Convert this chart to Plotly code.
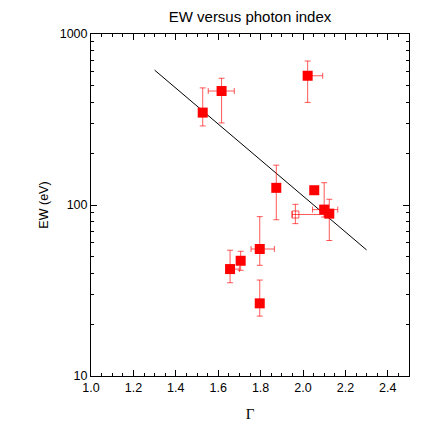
import plotly.graph_objects as go

# EW (eV) against photon index Gamma, log y axis, with a straight-line fit in log space

gamma = [1.527, 1.616, 2.022, 1.874, 2.053, 2.100, 2.124, 1.796, 1.706, 1.656, 1.796]
gamma_lo = [1.527, 1.553, 2.005, 1.874, 2.043, 2.045, 2.105, 1.755, 1.690, 1.640, 1.796]
gamma_hi = [1.527, 1.676, 2.093, 1.874, 2.063, 2.164, 2.140, 1.865, 1.720, 1.700, 1.796]
ew = [347, 464, 570, 126, 122, 94, 89, 55.3, 47.2, 42.2, 26.6]
ew_lo = [290, 302, 398, 82, 116, 85, 62, 44.4, 41.5, 35.1, 22.4]
ew_hi = [484, 551, 695, 171, 128, 135, 108, 85.5, 53.6, 54.4, 36.4]

# the single open-square point
open_gamma = [1.964]
open_gamma_lo = [1.950]
open_gamma_hi = [2.100]
open_ew = [88]
open_ew_lo = [77.8]
open_ew_hi = [100.9]

fit_gamma = [1.3, 2.3]
fit_ew = [615, 54.6]

err_col = 'rgba(255,0,0,0.65)'

fig = go.Figure()

fig.add_trace(go.Scatter(
    x=fit_gamma, y=fit_ew, mode='lines',
    line=dict(color='black', width=1), showlegend=False))

fig.add_trace(go.Scatter(
    x=open_gamma, y=open_ew, mode='markers',
    marker=dict(symbol='square-open', size=7, color=err_col, line=dict(width=1)),
    error_y=dict(type='data', symmetric=False,
                 array=[h - v for h, v in zip(open_ew_hi, open_ew)],
                 arrayminus=[v - l for l, v in zip(open_ew_lo, open_ew)],
                 color=err_col, thickness=1, width=3),
    error_x=dict(type='data', symmetric=False,
                 array=[h - v for h, v in zip(open_gamma_hi, open_gamma)],
                 arrayminus=[v - l for l, v in zip(open_gamma_lo, open_gamma)],
                 color=err_col, thickness=1, width=3),
    showlegend=False))

fig.add_trace(go.Scatter(
    x=gamma, y=ew, mode='markers',
    marker=dict(symbol='square', size=10, color='#ff0000'),
    error_y=dict(type='data', symmetric=False,
                 array=[h - v for h, v in zip(ew_hi, ew)],
                 arrayminus=[v - l for l, v in zip(ew_lo, ew)],
                 color=err_col, thickness=1, width=3),
    error_x=dict(type='data', symmetric=False,
                 array=[h - v for h, v in zip(gamma_hi, gamma)],
                 arrayminus=[v - l for l, v in zip(gamma_lo, gamma)],
                 color=err_col, thickness=1, width=3),
    showlegend=False))

axis_font = dict(family='Liberation Sans, Arial', size=12.5, color='black')

# page body adds ~8px offset, so margins are shifted to land the box where the reference has it
fig.update_layout(
    width=436, height=436, autosize=False,
    margin=dict(l=83, r=35, t=26, b=68),
    paper_bgcolor='white', plot_bgcolor='white',
    font=axis_font,
    title=dict(text='EW versus photon index', x=0.5, xref='paper',
               y=1 - 9 / 436, yanchor='middle',
               font=dict(family='Liberation Sans, Arial', size=15, color='black')),
    xaxis=dict(range=[1.0, 2.5], dtick=0.2, tick0=1.0, tickformat='.1f',
               showgrid=False, zeroline=False,
               showline=True, linecolor='black', linewidth=1, mirror='allticks',
               ticks='inside', ticklen=6, tickcolor='black',
               minor=dict(dtick=0.05, ticks='inside', ticklen=3, tickcolor='black', showgrid=False),
               title=dict(text='Γ', standoff=14,
                          font=dict(family='Liberation Serif', size=15, color='black'))),
    yaxis=dict(type='log', range=[1, 3], dtick=1, exponentformat='none',
               showgrid=False, zeroline=False,
               showline=True, linecolor='black', linewidth=1, mirror='allticks',
               ticks='inside', ticklen=6, tickcolor='black',
               minor=dict(dtick='D1', ticks='inside', ticklen=3, tickcolor='black', showgrid=False),
               title=dict(text='EW (eV)', standoff=8,
                          font=dict(family='Liberation Sans, Arial', size=12.5, color='black'))),
)

fig.write_html('out.html')
